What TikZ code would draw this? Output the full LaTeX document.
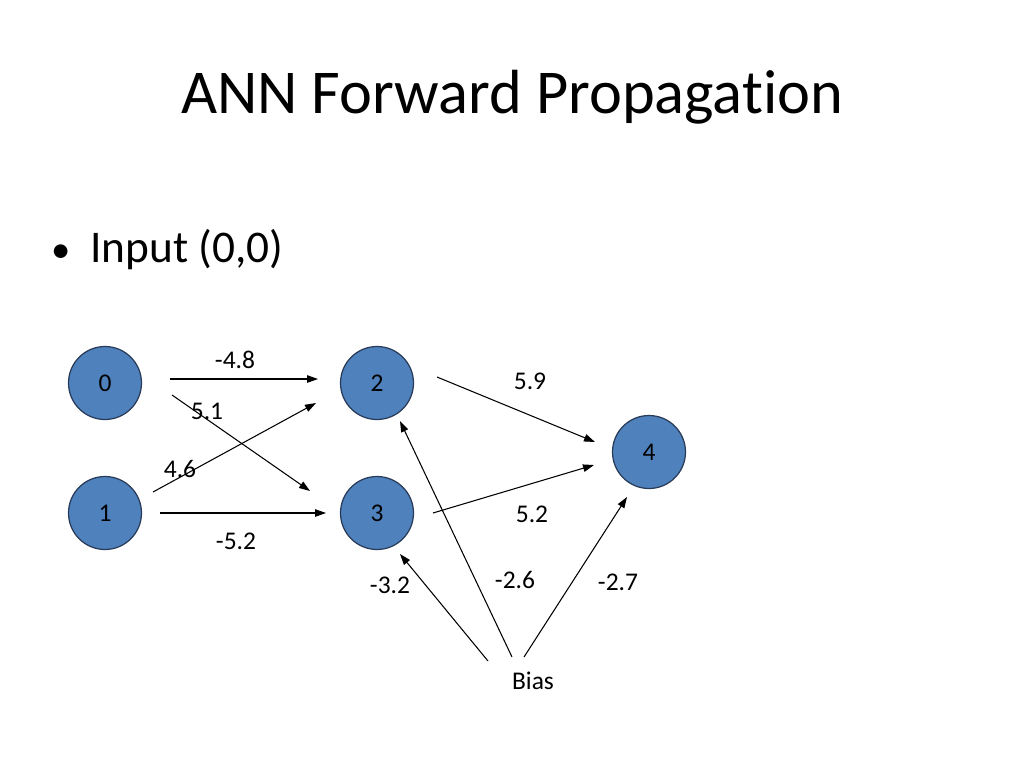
\documentclass[tikz,border=0pt]{standalone}
\usepackage{fontspec}
\setmainfont{Carlito}[RawFeature={-liga;-clig;-calt;-dlig}]
\usetikzlibrary{arrows.meta}

\tikzset{
  neuron/.style={circle, fill={rgb,255:red,79;green,129;blue,189}, draw={rgb,255:red,40;green,60;blue,90}, line width=0.7pt, minimum size=1.46cm, inner sep=0pt, font=\fontsize{14.5}{17}\selectfont},
  weight/.style={font=\fontsize{14.5}{17}\selectfont, inner sep=1pt},
  link/.style={-{Triangle[length=2.2mm,width=1.5mm]}, line width=0.6pt}
}

\begin{document}
\begin{tikzpicture}[x=0.02cm, y=-0.02cm]

    \useasboundingbox (0,0) rectangle (1024,768);

    % title and bullet
    \node [font=\fontsize{35.5}{40}\selectfont] (title) at (512,97) {ANN Forward Propagation};
    \node [font=\fontsize{25.8}{30}\selectfont, anchor=west] (input) at (45,250) {{\fontsize{22}{30}\selectfont\textbullet}\hspace{0.4cm}Input (0,0)};

    % neurons
    \node [neuron] (n0) at (105,383) {0};
    \node [neuron] (n1) at (105,513) {1};
    \node [neuron] (n2) at (377,383) {2};
    \node [neuron] (n3) at (377,513) {3};
    \node [neuron] (n4) at (649,452) {4};
    \node [weight] (bias) at (533,681) {Bias};

    % arrow ends
    \coordinate (s02) at (170,379);
    \coordinate (e02) at (318,379);
    \coordinate (s03) at (172,395);
    \coordinate (e03) at (310,491);
    \coordinate (s12) at (153,492);
    \coordinate (e12) at (316,403);
    \coordinate (s13) at (160,513);
    \coordinate (e13) at (326,513);
    \coordinate (s24) at (437,377);
    \coordinate (e24) at (595,442);
    \coordinate (s34) at (433,513);
    \coordinate (e34) at (594,465);
    \coordinate (sb3) at (488,661);
    \coordinate (eb3) at (400,554);
    \coordinate (sb2) at (512,657);
    \coordinate (eb2) at (400,421);
    \coordinate (sb4) at (524,657);
    \coordinate (eb4) at (627,497);

    \draw [link] (s02) -- (e02);
    \draw [link] (s03) -- (e03);
    \draw [link] (s12) -- (e12);
    \draw [link] (s13) -- (e13);
    \draw [link] (s24) -- (e24);
    \draw [link] (s34) -- (e34);
    \draw [link] (sb3) -- (eb3);
    \draw [link] (sb2) -- (eb2);
    \draw [link] (sb4) -- (eb4);

    % weights
    \node [weight] (w02) at (235,360) {-4.8};
    \node [weight] (w03) at (207,411) {5.1};
    \node [weight] (w12) at (180,469) {4.6};
    \node [weight] (w13) at (236,541) {-5.2};
    \node [weight] (w24) at (530,381) {5.9};
    \node [weight] (w34) at (532,514) {5.2};
    \node [weight] (wb3) at (390,585) {-3.2};
    \node [weight] (wb2) at (515,580) {-2.6};
    \node [weight] (wb4) at (618,582) {-2.7};

\end{tikzpicture}
\end{document}
